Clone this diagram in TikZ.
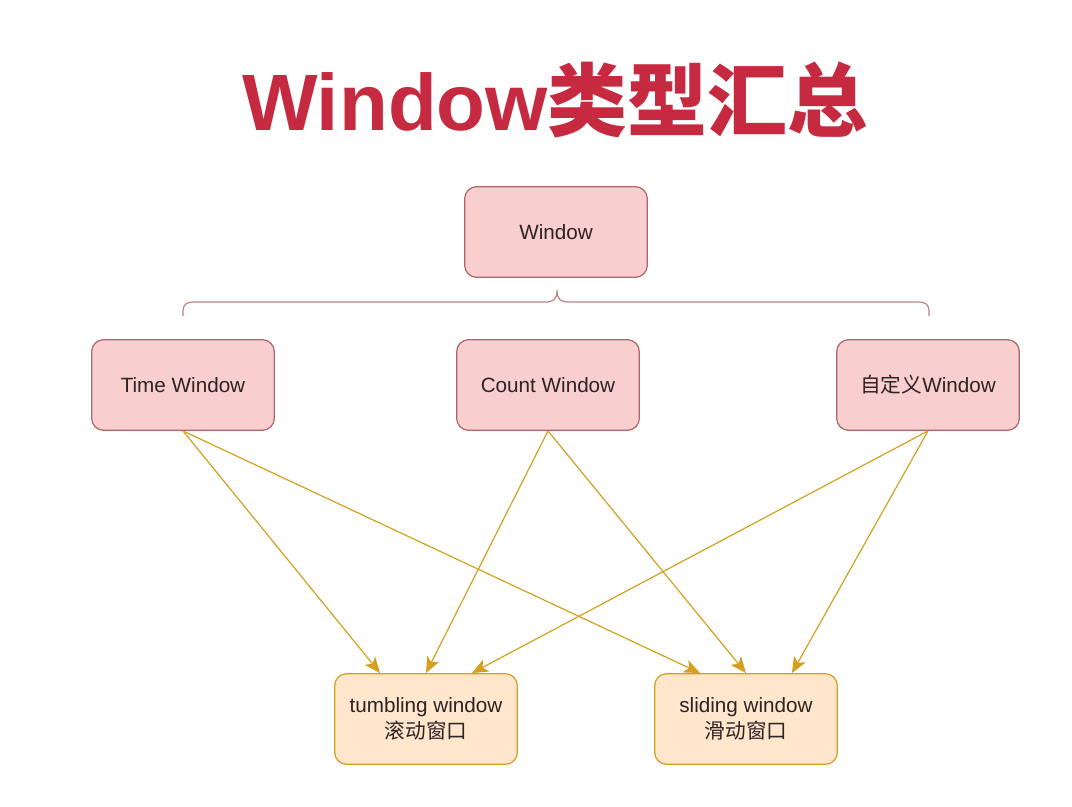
\documentclass[tikz,border=0pt]{standalone}
\usepackage{fontspec}
\setmainfont{Liberation Sans}
\newfontfamily\cjk{Noto Sans CJK SC}
\usepackage{xcolor}
\usetikzlibrary{arrows.meta,calc}

\definecolor{titlered}{RGB}{198,42,64}
\definecolor{pinkfill}{RGB}{248,206,206}
\definecolor{pinkline}{RGB}{176,102,104}
\definecolor{braceline}{RGB}{190,130,132}
\definecolor{orangefill}{RGB}{255,230,204}
\definecolor{orangeline}{RGB}{212,160,30}
\definecolor{textdark}{RGB}{45,35,35}

\begin{document}
\begin{tikzpicture}[
    x=0.75pt, y=-0.75pt,
    kind/.style={rectangle, draw=pinkline, fill=pinkfill, rounded corners=9pt, line width=0.9pt, minimum width=137pt, minimum height=68pt, font=\fontsize{15.5}{19}\selectfont, text=textdark},
    variant/.style={rectangle, draw=orangeline, fill=orangefill, rounded corners=9pt, line width=0.9pt, minimum width=137pt, minimum height=68pt, align=center, font=\fontsize{15.5}{19.5}\selectfont, text=textdark},
    arrow/.style={-{Stealth[length=12pt, width=10pt, inset=3pt]}, line width=0.9pt, orangeline}
]
    \useasboundingbox (0,0) rectangle (1072,807);

    \node[text=titlered, font=\fontsize{60}{70}\selectfont\bfseries] (title) at (555,100) {Window{\cjk 类型汇总}};

    \node[kind] (window) at (556,232) {Window};
    \node[kind] (time) at (183,385) {Time Window};
    \node[kind] (count) at (548,385) {Count Window};
    \node[kind] (custom) at (928,385) {{\cjk 自定义}Window};

    \node[variant] (tumbling) at (426,719) {tumbling window\\{\cjk 滚动窗口}};
    \node[variant] (sliding) at (746,719) {sliding window\\{\cjk 滑动窗口}};

    % brace under Window
    \draw[braceline, line width=0.9pt] (183,316) -- (183,312) .. controls (183,304) and (186,302) .. (195,302) -- (545,302)
        .. controls (553,302) and (557,300) .. (557,290) .. controls (557,300) and (561,302) .. (569,302) -- (917,302)
        .. controls (926,302) and (929,304) .. (929,312) -- (929,316);

    \draw[arrow] (time.south) -- ($(tumbling.north west)!0.25!(tumbling.north east)$);
    \draw[arrow] (time.south) -- ($(sliding.north west)!0.25!(sliding.north east)$);
    \draw[arrow] (count.south) -- (tumbling.north);
    \draw[arrow] (count.south) -- (sliding.north);
    \draw[arrow] (custom.south) -- ($(tumbling.north west)!0.75!(tumbling.north east)$);
    \draw[arrow] (custom.south) -- ($(sliding.north west)!0.75!(sliding.north east)$);
\end{tikzpicture}
\end{document}
